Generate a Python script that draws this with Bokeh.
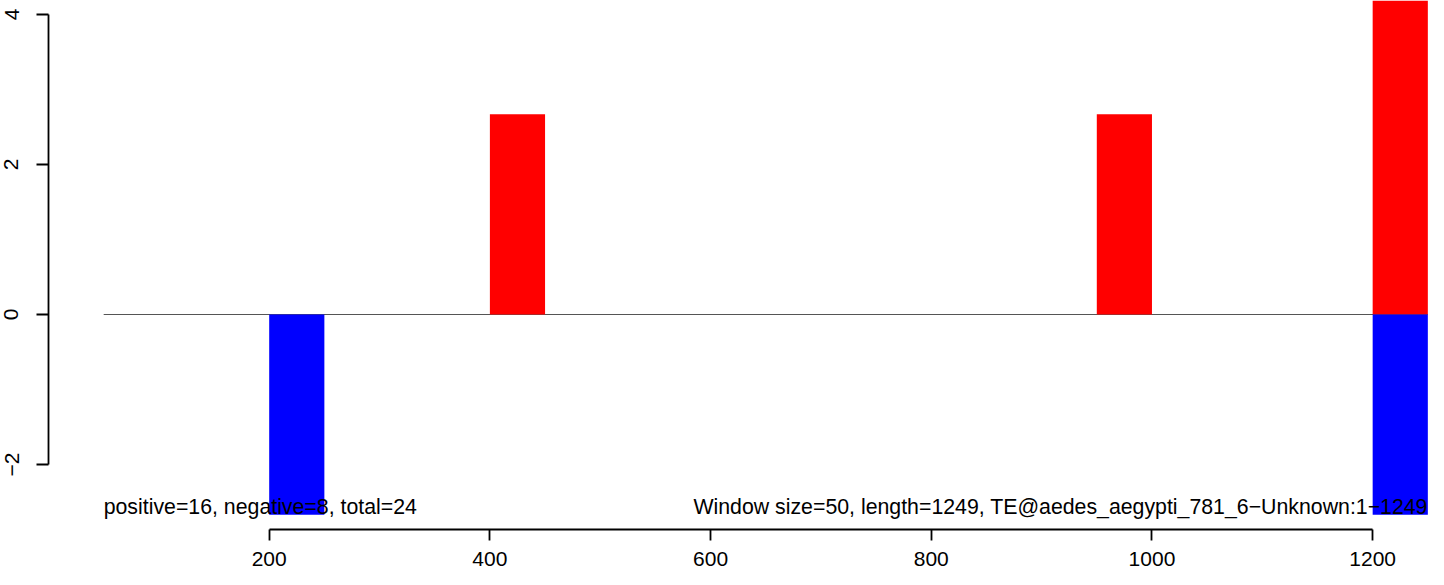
from bokeh.plotting import figure
from bokeh.models import Range1d, LinearAxis, FixedTicker, ColumnDataSource
from bokeh.core.properties import value
from bokeh.embed import file_html
from bokeh.resources import INLINE

# ---- data ----
window_size = 50
seq_length = 1249
pos_starts = [400, 950, 1200]
pos_values = [2.67, 2.67, 5.33]
neg_starts = [200, 1200]
neg_values = [-2.67, -2.67]
x_ticks = [200, 400, 600, 800, 1000, 1200]
y_ticks = [-2, 0, 2, 4]
left_note = "positive=16, negative=8, total=24"
right_note = "Window size=50, length=1249, TE@aedes_aegypti_781_6\u2212Unknown:1\u22121249"

FONT = "Liberation Sans"
W, H = 1428, 569

p = figure(width=W, height=H, output_backend="svg", toolbar_location=None,
           x_range=Range1d(-43.5, 1250.6), y_range=Range1d(-3.4, 4.1867),
           x_axis_location=None, y_axis_location=None, min_border=0)
p.outline_line_color = None
p.background_fill_color = "white"
p.border_fill_color = "white"

# baseline
p.segment(x0=[window_size], y0=[0], x1=[window_size * 25], y1=[0],
          line_color="#555555", line_width=1)

pos_src = ColumnDataSource(dict(x=[s + window_size / 2 for s in pos_starts], top=pos_values))
neg_src = ColumnDataSource(dict(x=[s + window_size / 2 for s in neg_starts], top=neg_values))
p.vbar(x="x", top="top", bottom=0, width=window_size, source=pos_src,
       fill_color="#FF0000", line_color=None)
p.vbar(x="x", top="top", bottom=0, width=window_size, source=neg_src,
       fill_color="#0000FF", line_color=None)

# notes
p.text(x=[window_size], y=[-2.56], text=[left_note], text_font=value(FONT),
       text_font_size="21.3px", text_color="black", text_align="left",
       text_baseline="middle")
p.text(x=[window_size * 25], y=[-2.56], text=[right_note], text_font=value(FONT),
       text_font_size="21.3px", text_color="black", text_align="right",
       text_baseline="middle")

# axes
xa = LinearAxis(ticker=FixedTicker(ticks=x_ticks), fixed_location=-2.86, bounds=(200, 1200))
ya = LinearAxis(ticker=FixedTicker(ticks=y_ticks), fixed_location=0, bounds=(-2, 4))
for ax in (xa, ya):
    ax.axis_line_width = 1.8
    ax.axis_line_color = "black"
    ax.major_tick_line_width = 1.8
    ax.major_tick_line_color = "black"
    ax.major_tick_in = 0
    ax.minor_tick_out = 0
    ax.minor_tick_in = 0
    ax.major_label_text_font = FONT
    ax.major_label_text_font_size = "21px"
    ax.major_label_text_color = "black"
xa.major_tick_out = 11
xa.major_label_standoff = 12
ya.major_tick_out = 12
ya.major_label_standoff = 18
ya.major_label_orientation = "vertical"
ya.major_label_overrides = {-2: "\u22122", 0: "0", 2: "2", 4: "4"}
p.add_layout(xa, "below")
p.add_layout(ya, "left")

p.xgrid.visible = False
p.ygrid.visible = False

open("out.html", "w").write(file_html(p, INLINE))
